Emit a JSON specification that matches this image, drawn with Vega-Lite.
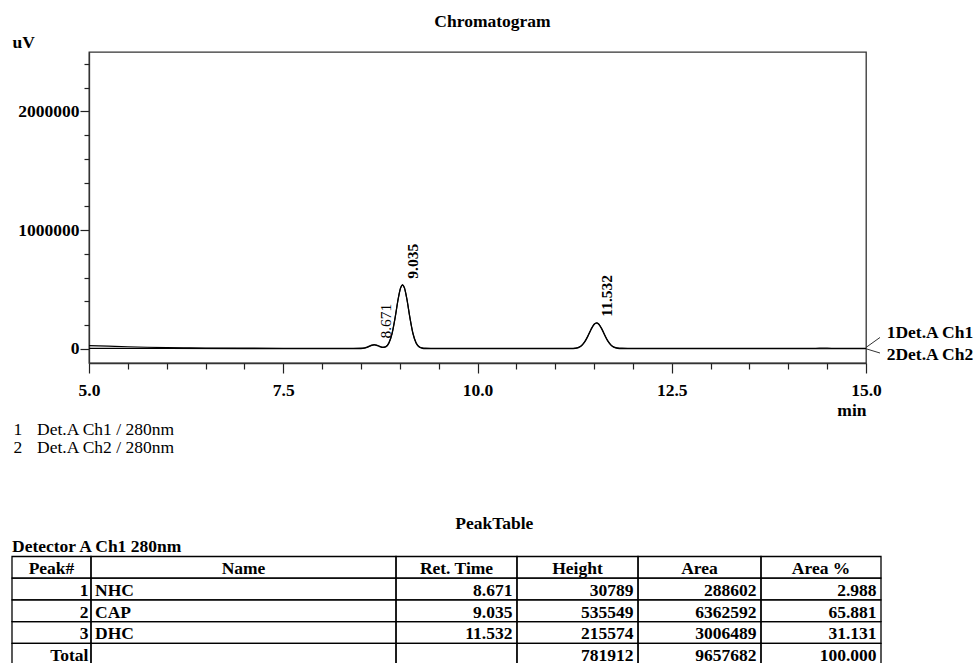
{
  "$schema": "https://vega.github.io/schema/vega-lite/v6.json",
  "background": "white",
  "padding": {"left": 11, "top": 11, "right": 0, "bottom": 0},
  "columns": 1,
  "align": "none",
  "spacing": 0.95,
  "config": {
    "font": "Liberation Serif",
    "view": {"stroke": null},
    "text": {"font": "Liberation Serif", "fontSize": 17.5, "fontWeight": "bold", "color": "#000"},
    "axis": {"labelFont": "Liberation Serif", "labelFontSize": 17.5, "labelFontWeight": "bold", "labelColor": "#000", "titleFont": "Liberation Serif", "titleFontSize": 17.5, "titleFontWeight": "bold", "titleColor": "#000", "tickColor": "#222", "domainColor": "#333", "grid": false, "tickWidth": 1.2, "domainWidth": 1.3},
    "title": {"font": "Liberation Serif", "fontSize": 17.5, "fontWeight": "bold", "color": "#000"}
  },
  "datasets": {
    "chrom": [
      {"ch": "1", "t": 5.0, "v": 27000}, {"ch": "1", "t": 5.25, "v": 22000}, {"ch": "1", "t": 5.5, "v": 17000}, {"ch": "1", "t": 5.75, "v": 12500},
      {"ch": "1", "t": 6.0, "v": 9000}, {"ch": "1", "t": 6.25, "v": 7000}, {"ch": "1", "t": 6.5, "v": 5500}, {"ch": "1", "t": 7.0, "v": 4800},
      {"ch": "1", "t": 7.5, "v": 4300}, {"ch": "1", "t": 8.0, "v": 4000}, {"ch": "1", "t": 8.4, "v": 4000}, {"ch": "1", "t": 8.5, "v": 4700},
      {"ch": "1", "t": 8.55, "v": 8600}, {"ch": "1", "t": 8.6, "v": 20000}, {"ch": "1", "t": 8.64, "v": 31200}, {"ch": "1", "t": 8.67, "v": 34800},
      {"ch": "1", "t": 8.7, "v": 31700}, {"ch": "1", "t": 8.74, "v": 21100}, {"ch": "1", "t": 8.78, "v": 13500}, {"ch": "1", "t": 8.82, "v": 18900},
      {"ch": "1", "t": 8.86, "v": 50400}, {"ch": "1", "t": 8.9, "v": 128400}, {"ch": "1", "t": 8.94, "v": 263900}, {"ch": "1", "t": 8.98, "v": 424300},
      {"ch": "1", "t": 9.01, "v": 513400}, {"ch": "1", "t": 9.035, "v": 539500}, {"ch": "1", "t": 9.06, "v": 513400}, {"ch": "1", "t": 9.09, "v": 424300},
      {"ch": "1", "t": 9.13, "v": 263900}, {"ch": "1", "t": 9.17, "v": 128400}, {"ch": "1", "t": 9.21, "v": 50100}, {"ch": "1", "t": 9.25, "v": 17200},
      {"ch": "1", "t": 9.29, "v": 6900}, {"ch": "1", "t": 9.33, "v": 4500}, {"ch": "1", "t": 9.4, "v": 4000}, {"ch": "1", "t": 10.0, "v": 3800},
      {"ch": "1", "t": 10.5, "v": 3500}, {"ch": "1", "t": 11.0, "v": 3500}, {"ch": "1", "t": 11.2, "v": 3900}, {"ch": "1", "t": 11.26, "v": 6400},
      {"ch": "1", "t": 11.3, "v": 12900}, {"ch": "1", "t": 11.34, "v": 28700}, {"ch": "1", "t": 11.38, "v": 59700}, {"ch": "1", "t": 11.42, "v": 107400},
      {"ch": "1", "t": 11.46, "v": 162900}, {"ch": "1", "t": 11.5, "v": 206600}, {"ch": "1", "t": 11.532, "v": 219100}, {"ch": "1", "t": 11.56, "v": 209500},
      {"ch": "1", "t": 11.6, "v": 168200}, {"ch": "1", "t": 11.64, "v": 112900}, {"ch": "1", "t": 11.68, "v": 63800}, {"ch": "1", "t": 11.72, "v": 31100},
      {"ch": "1", "t": 11.76, "v": 14000}, {"ch": "1", "t": 11.8, "v": 6800}, {"ch": "1", "t": 11.86, "v": 4500}, {"ch": "1", "t": 11.95, "v": 4200},
      {"ch": "1", "t": 12.2, "v": 3800}, {"ch": "1", "t": 12.5, "v": 3500}, {"ch": "1", "t": 13.0, "v": 3300}, {"ch": "1", "t": 13.5, "v": 3200},
      {"ch": "1", "t": 14.0, "v": 3000}, {"ch": "1", "t": 14.3, "v": 3000}, {"ch": "1", "t": 14.4, "v": 4500}, {"ch": "1", "t": 14.5, "v": 4700},
      {"ch": "1", "t": 14.6, "v": 3500}, {"ch": "1", "t": 14.7, "v": 2800}, {"ch": "1", "t": 15.0, "v": 2500},
      {"ch": "2", "t": 5.0, "v": 4000}, {"ch": "2", "t": 6.0, "v": 2500}, {"ch": "2", "t": 7.0, "v": 1800}, {"ch": "2", "t": 8.0, "v": 1500},
      {"ch": "2", "t": 8.4, "v": 1500}, {"ch": "2", "t": 8.5, "v": 1800}, {"ch": "2", "t": 8.55, "v": 5600}, {"ch": "2", "t": 8.6, "v": 17000},
      {"ch": "2", "t": 8.64, "v": 28200}, {"ch": "2", "t": 8.67, "v": 31800}, {"ch": "2", "t": 8.7, "v": 28700}, {"ch": "2", "t": 8.74, "v": 18100},
      {"ch": "2", "t": 8.78, "v": 10500}, {"ch": "2", "t": 8.82, "v": 15900}, {"ch": "2", "t": 8.86, "v": 47400}, {"ch": "2", "t": 8.9, "v": 125400},
      {"ch": "2", "t": 8.94, "v": 260900}, {"ch": "2", "t": 8.98, "v": 421300}, {"ch": "2", "t": 9.01, "v": 510400}, {"ch": "2", "t": 9.035, "v": 536500},
      {"ch": "2", "t": 9.06, "v": 510400}, {"ch": "2", "t": 9.09, "v": 421300}, {"ch": "2", "t": 9.13, "v": 260900}, {"ch": "2", "t": 9.17, "v": 125400},
      {"ch": "2", "t": 9.21, "v": 47100}, {"ch": "2", "t": 9.25, "v": 14200}, {"ch": "2", "t": 9.29, "v": 3900}, {"ch": "2", "t": 9.33, "v": 1500},
      {"ch": "2", "t": 9.4, "v": 1000}, {"ch": "2", "t": 10.0, "v": 800}, {"ch": "2", "t": 11.0, "v": 500}, {"ch": "2", "t": 11.2, "v": 900},
      {"ch": "2", "t": 11.26, "v": 3400}, {"ch": "2", "t": 11.3, "v": 9900}, {"ch": "2", "t": 11.34, "v": 25700}, {"ch": "2", "t": 11.38, "v": 56700},
      {"ch": "2", "t": 11.42, "v": 104400}, {"ch": "2", "t": 11.46, "v": 159900}, {"ch": "2", "t": 11.5, "v": 203600}, {"ch": "2", "t": 11.532, "v": 216100},
      {"ch": "2", "t": 11.56, "v": 206500}, {"ch": "2", "t": 11.6, "v": 165200}, {"ch": "2", "t": 11.64, "v": 109900}, {"ch": "2", "t": 11.68, "v": 60800},
      {"ch": "2", "t": 11.72, "v": 28100}, {"ch": "2", "t": 11.76, "v": 11000}, {"ch": "2", "t": 11.8, "v": 3800}, {"ch": "2", "t": 11.86, "v": 1500},
      {"ch": "2", "t": 11.95, "v": 1200}, {"ch": "2", "t": 12.5, "v": 500}, {"ch": "2", "t": 14.0, "v": 300}, {"ch": "2", "t": 15.0, "v": 0}
    ],
    "peaks": [
      {"peak": "Peak#"},
      {"peak": "1", "name": "NHC", "rt": 8.671, "height": 30789, "area": 288602, "pct": 2.988},
      {"peak": "2", "name": "CAP", "rt": 9.035, "height": 535549, "area": 6362592, "pct": 65.881},
      {"peak": "3", "name": "DHC", "rt": 11.532, "height": 215574, "area": 3006489, "pct": 31.131},
      {"peak": "Total", "name": "", "rt": null, "height": 781912, "area": 9657682, "pct": 100}
    ],
    "channels": [
      {"ch": "1", "label": "1Det.A Ch1", "legend": "Det.A Ch1 / 280nm"},
      {"ch": "2", "label": "2Det.A Ch2", "legend": "Det.A Ch2 / 280nm"}
    ],
    "columns": [
      {"col": "Peak#"}, {"col": "Name"}, {"col": "Ret. Time"}, {"col": "Height"}, {"col": "Area"}, {"col": "Area %"}
    ],
    "captions": [
      {"text": "PeakTable"}, {"text": "Detector A Ch1 280nm"}
    ]
  },
  "concat": [
    {
      "width": 777,
      "height": 311,
      "view": {"stroke": "#333", "strokeWidth": 1.3},
      "title": {"text": "Chromatogram", "anchor": "middle", "dx": 15, "frame": "group", "baseline": "alphabetic", "offset": -11},
      "resolve": {"axis": {"x": "independent", "y": "independent"}},
      "layer": [
        {
          "data": {"name": "chrom"},
          "mark": {"type": "line", "color": "#000", "strokeWidth": 1.2, "interpolate": "monotone"},
          "encoding": {
            "x": {"field": "t", "type": "quantitative", "scale": {"domain": [5, 15], "nice": false, "zero": false},
              "axis": {"orient": "bottom", "values": [5, 7.5, 10, 12.5, 15], "format": ".1f", "tickSize": 10, "labelPadding": 8, "labelFlush": false, "labelOverlap": false, "title": "min", "titleX": 777, "titleY": 52, "titleAlign": "right", "titleBaseline": "alphabetic", "titleAnchor": "end"}},
            "y": {"field": "v", "type": "quantitative", "scale": {"domain": [-120000, 2500000], "nice": false, "zero": false},
              "axis": {"orient": "left", "values": [0, 1000000, 2000000], "format": "d", "tickSize": 9, "labelPadding": 1, "labelOverlap": false, "title": "uV", "titleAngle": 0, "titleAlign": "left", "titleBaseline": "alphabetic", "titleX": -77, "titleY": -5, "titleAnchor": "end"}},
            "detail": {"field": "ch", "type": "nominal"}
          }
        },
        {
          "data": {"name": "peaks"},
          "transform": [{"filter": "datum.peak == '1'"}],
          "mark": {"type": "text", "angle": 270, "align": "left", "baseline": "middle", "dx": 6.5, "dy": 12, "fontSize": 15.5, "fontWeight": "normal"},
          "encoding": {
            "x": {"field": "rt", "type": "quantitative",
              "axis": {"orient": "bottom", "values": [5.5, 6, 6.5, 7, 8, 8.5, 9, 9.5, 10.5, 11, 11.5, 12, 13, 13.5, 14, 14.5], "tickSize": 6, "labels": false, "domain": false, "title": null}},
            "y": {"field": "height", "type": "quantitative",
              "axis": {"orient": "left", "values": [200000, 400000, 600000, 800000, 1200000, 1400000, 1600000, 1800000, 2200000, 2400000], "tickSize": 5, "labels": false, "domain": false, "title": null}},
            "text": {"field": "rt", "type": "quantitative", "format": ".3f"}
          }
        },
        {
          "data": {"name": "peaks"},
          "transform": [{"filter": "datum.peak == '2' || datum.peak == '3'"}],
          "mark": {"type": "text", "angle": 270, "align": "left", "baseline": "middle", "dx": 6.5, "dy": 10, "fontSize": 15.5, "fontWeight": "bold"},
          "encoding": {
            "x": {"field": "rt", "type": "quantitative", "axis": null},
            "y": {"field": "height", "type": "quantitative", "axis": null},
            "text": {"field": "rt", "type": "quantitative", "format": ".3f"}
          }
        },
        {
          "data": {"name": "channels"},
          "transform": [{"filter": "datum.ch == '1'"}],
          "layer": [
            {
              "mark": {"type": "text", "align": "left", "baseline": "alphabetic", "dx": 20.7, "dy": -10.7},
              "encoding": {
                "x": {"datum": 15, "type": "quantitative", "axis": null},
                "y": {"datum": 0, "type": "quantitative", "axis": null},
                "text": {"field": "label", "type": "nominal"}
              }
            },
            {
              "mark": {"type": "rule", "color": "#333", "strokeWidth": 1},
              "encoding": {
                "x": {"datum": 15, "type": "quantitative", "axis": null},
                "y": {"datum": 11000, "type": "quantitative", "axis": null},
                "x2": {"datum": 15.18},
                "y2": {"datum": 95000}
              }
            }
          ]
        },
        {
          "data": {"name": "channels"},
          "transform": [{"filter": "datum.ch == '2'"}],
          "layer": [
            {
              "mark": {"type": "text", "align": "left", "baseline": "alphabetic", "dx": 20.7, "dy": 11.7},
              "encoding": {
                "x": {"datum": 15, "type": "quantitative", "axis": null},
                "y": {"datum": 0, "type": "quantitative", "axis": null},
                "text": {"field": "label", "type": "nominal"}
              }
            },
            {
              "mark": {"type": "rule", "color": "#333", "strokeWidth": 1},
              "encoding": {
                "x": {"datum": 15, "type": "quantitative", "axis": null},
                "y": {"datum": 0, "type": "quantitative", "axis": null},
                "x2": {"datum": 15.18},
                "y2": {"datum": -36000}
              }
            }
          ]
        }
      ]
    },
    {
      "columns": 1,
      "align": "none",
      "spacing": 55.15,
      "concat": [
        {
          "width": 792,
          "height": 36.6,
          "data": {"name": "channels"},
          "encoding": {
            "y": {"field": "ch", "type": "nominal", "scale": {"type": "band", "domain": ["1", "2"], "paddingInner": 0, "paddingOuter": 0}, "axis": null},
            "x": {"datum": 0, "type": "quantitative", "scale": {"domain": [8.861, 100], "nice": false, "zero": false}, "axis": null}
          },
          "layer": [
            {"mark": {"type": "text", "align": "left", "baseline": "middle", "dx": 1.5, "fontWeight": "normal"}, "encoding": {"text": {"field": "ch", "type": "nominal"}}},
            {"mark": {"type": "text", "align": "left", "baseline": "middle", "dx": 25, "fontWeight": "normal"}, "encoding": {"text": {"field": "legend", "type": "nominal"}}}
          ]
        },
        {
          "width": 792,
          "height": 151.9,
          "layer": [
            {"data": {"name": "peaks"}, "mark": {"type": "rect", "filled": false, "color": "#000", "strokeWidth": 1.3},
              "encoding": {
                "x": {"datum": 0, "type": "quantitative", "scale": {"domain": [8.861, 100], "nice": false, "zero": false}, "axis": null},
                "x2": {"datum": 9.09},
                "y": {"field": "peak", "type": "nominal", "scale": {"type": "band", "domain": ["PeakTable", "Detector A Ch1 280nm", "Peak#", "1", "2", "3", "Total"], "paddingInner": 0, "paddingOuter": 0}, "axis": null}
              }},
            {"data": {"name": "peaks"}, "mark": {"type": "rect", "filled": false, "color": "#000", "strokeWidth": 1.3},
              "encoding": {"x": {"datum": 9.09, "type": "quantitative", "axis": null}, "x2": {"datum": 44.19}, "y": {"field": "peak", "type": "nominal", "axis": null}}},
            {"data": {"name": "peaks"}, "mark": {"type": "rect", "filled": false, "color": "#000", "strokeWidth": 1.3},
              "encoding": {"x": {"datum": 44.19, "type": "quantitative", "axis": null}, "x2": {"datum": 58.11}, "y": {"field": "peak", "type": "nominal", "axis": null}}},
            {"data": {"name": "peaks"}, "mark": {"type": "rect", "filled": false, "color": "#000", "strokeWidth": 1.3},
              "encoding": {"x": {"datum": 58.11, "type": "quantitative", "axis": null}, "x2": {"datum": 72.04}, "y": {"field": "peak", "type": "nominal", "axis": null}}},
            {"data": {"name": "peaks"}, "mark": {"type": "rect", "filled": false, "color": "#000", "strokeWidth": 1.3},
              "encoding": {"x": {"datum": 72.04, "type": "quantitative", "axis": null}, "x2": {"datum": 86.19}, "y": {"field": "peak", "type": "nominal", "axis": null}}},
            {"data": {"name": "peaks"}, "mark": {"type": "rect", "filled": false, "color": "#000", "strokeWidth": 1.3},
              "encoding": {"x": {"datum": 86.19, "type": "quantitative", "axis": null}, "x2": {"datum": 100}, "y": {"field": "peak", "type": "nominal", "axis": null}}},
            {"data": {"name": "peaks"}, "transform": [{"filter": "datum.peak != 'Peak#'"}],
              "mark": {"type": "text", "align": "right", "baseline": "middle", "dx": -2.5, "dy": 2},
              "encoding": {"x": {"datum": 9.09, "type": "quantitative", "axis": null}, "y": {"field": "peak", "type": "nominal", "axis": null}, "text": {"field": "peak", "type": "nominal"}}},
            {"data": {"name": "peaks"}, "transform": [{"filter": "datum.peak != 'Peak#'"}],
              "mark": {"type": "text", "align": "left", "baseline": "middle", "dx": 4, "dy": 2},
              "encoding": {"x": {"datum": 9.09, "type": "quantitative", "axis": null}, "y": {"field": "peak", "type": "nominal", "axis": null}, "text": {"field": "name", "type": "nominal"}}},
            {"data": {"name": "peaks"}, "transform": [{"filter": "isValid(datum.rt)"}],
              "mark": {"type": "text", "align": "right", "baseline": "middle", "dx": -4.5, "dy": 2},
              "encoding": {"x": {"datum": 58.11, "type": "quantitative", "axis": null}, "y": {"field": "peak", "type": "nominal", "axis": null}, "text": {"field": "rt", "type": "quantitative", "format": ".3f"}}},
            {"data": {"name": "peaks"}, "transform": [{"filter": "isValid(datum.height)"}],
              "mark": {"type": "text", "align": "right", "baseline": "middle", "dx": -4.5, "dy": 2},
              "encoding": {"x": {"datum": 72.04, "type": "quantitative", "axis": null}, "y": {"field": "peak", "type": "nominal", "axis": null}, "text": {"field": "height", "type": "quantitative", "format": "d"}}},
            {"data": {"name": "peaks"}, "transform": [{"filter": "isValid(datum.area)"}],
              "mark": {"type": "text", "align": "right", "baseline": "middle", "dx": -4.5, "dy": 2},
              "encoding": {"x": {"datum": 86.19, "type": "quantitative", "axis": null}, "y": {"field": "peak", "type": "nominal", "axis": null}, "text": {"field": "area", "type": "quantitative", "format": "d"}}},
            {"data": {"name": "peaks"}, "transform": [{"filter": "isValid(datum.pct)"}],
              "mark": {"type": "text", "align": "right", "baseline": "middle", "dx": -4.5, "dy": 2},
              "encoding": {"x": {"datum": 100, "type": "quantitative", "axis": null}, "y": {"field": "peak", "type": "nominal", "axis": null}, "text": {"field": "pct", "type": "quantitative", "format": ".3f"}}},
            {"data": {"name": "columns"}, "transform": [{"filter": "datum.col == 'Peak#'"}],
              "mark": {"type": "text", "align": "center", "baseline": "middle", "dy": 2},
              "encoding": {"x": {"datum": 4.545, "type": "quantitative", "axis": null}, "y": {"datum": "Peak#", "type": "nominal", "axis": null}, "text": {"field": "col", "type": "nominal"}}},
            {"data": {"name": "columns"}, "transform": [{"filter": "datum.col == 'Name'"}],
              "mark": {"type": "text", "align": "center", "baseline": "middle", "dy": 2},
              "encoding": {"x": {"datum": 26.64, "type": "quantitative", "axis": null}, "y": {"datum": "Peak#", "type": "nominal", "axis": null}, "text": {"field": "col", "type": "nominal"}}},
            {"data": {"name": "columns"}, "transform": [{"filter": "datum.col == 'Ret. Time'"}],
              "mark": {"type": "text", "align": "center", "baseline": "middle", "dy": 2},
              "encoding": {"x": {"datum": 51.15, "type": "quantitative", "axis": null}, "y": {"datum": "Peak#", "type": "nominal", "axis": null}, "text": {"field": "col", "type": "nominal"}}},
            {"data": {"name": "columns"}, "transform": [{"filter": "datum.col == 'Height'"}],
              "mark": {"type": "text", "align": "center", "baseline": "middle", "dy": 2},
              "encoding": {"x": {"datum": 65.07, "type": "quantitative", "axis": null}, "y": {"datum": "Peak#", "type": "nominal", "axis": null}, "text": {"field": "col", "type": "nominal"}}},
            {"data": {"name": "columns"}, "transform": [{"filter": "datum.col == 'Area'"}],
              "mark": {"type": "text", "align": "center", "baseline": "middle", "dy": 2},
              "encoding": {"x": {"datum": 79.11, "type": "quantitative", "axis": null}, "y": {"datum": "Peak#", "type": "nominal", "axis": null}, "text": {"field": "col", "type": "nominal"}}},
            {"data": {"name": "columns"}, "transform": [{"filter": "datum.col == 'Area %'"}],
              "mark": {"type": "text", "align": "center", "baseline": "middle", "dy": 2},
              "encoding": {"x": {"datum": 93.1, "type": "quantitative", "axis": null}, "y": {"datum": "Peak#", "type": "nominal", "axis": null}, "text": {"field": "col", "type": "nominal"}}},
            {"data": {"name": "captions"}, "transform": [{"filter": "datum.text == 'PeakTable'"}],
              "mark": {"type": "text", "align": "center", "baseline": "middle"},
              "encoding": {"x": {"datum": 55.5, "type": "quantitative", "axis": null}, "y": {"field": "text", "type": "nominal", "axis": null}, "text": {"field": "text", "type": "nominal"}}},
            {"data": {"name": "captions"}, "transform": [{"filter": "datum.text == 'Detector A Ch1 280nm'"}],
              "mark": {"type": "text", "align": "left", "baseline": "middle", "dy": 1.5},
              "encoding": {"x": {"datum": 0, "type": "quantitative", "axis": null}, "y": {"field": "text", "type": "nominal", "axis": null}, "text": {"field": "text", "type": "nominal"}}}
          ]
        }
      ]
    }
  ]
}
